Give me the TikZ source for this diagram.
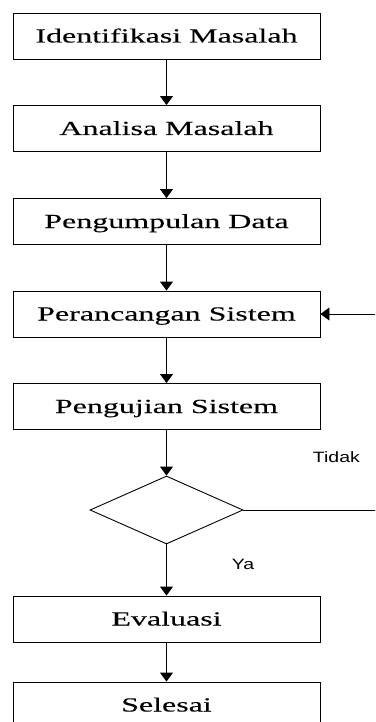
\documentclass[tikz,border=0pt]{standalone}
\usepackage{fontspec}
\setmainfont{Liberation Serif}[FakeStretch=1.6, FakeBold=0.15]
\newfontfamily\labelfont{Liberation Sans}[FakeStretch=1.3]
\usetikzlibrary{calc,positioning,shapes.geometric,arrows.meta}

\begin{document}
\begin{tikzpicture}[line width=0.9pt, >={Triangle[width=13pt,length=9pt]},
block/.style={rectangle, draw, minimum width=307pt, minimum height=46pt, inner sep=0pt,
      text height=18pt, text depth=5pt, font=\fontsize{20}{24}\selectfont},
decision/.style={diamond, draw, minimum width=153pt, minimum height=68pt, inner sep=0pt},
lbl/.style={font=\labelfont\fontsize{15}{18}\selectfont, inner sep=0pt}]
 \clip (-166.5pt,36pt) rectangle (208.5pt,-686pt);
 \node[block] (ident) at (0,0) {Identifikasi Masalah};
 \node[block, below of=ident, node distance=92.5pt] (analisa) {Analisa Masalah};
 \node[block, below of=analisa, node distance=93pt] (data) {Pengumpulan Data};
 \node[block, below of=data, node distance=92.5pt] (rancang) {Perancangan Sistem};
 \node[block, below of=rancang, node distance=92.5pt] (uji) {Pengujian Sistem};
 \node[decision, below of=uji, node distance=103.5pt] (cek) {};
 \node[block, below of=cek, node distance=109pt] (evaluasi) {Evaluasi};
 \node[block, below of=evaluasi, node distance=86pt] (selesai) {Selesai};
 \node[coordinate, right of=rancang, node distance=215pt] (balik) {};
 \node[lbl] (tidak) at ($ (cek.east) + (93pt, 53pt) $) {Tidak};

 \draw[->] (ident) -- (analisa);
 \draw[->] (analisa) -- (data);
 \draw[->] (data) -- (rancang);
 \draw[->] (rancang) -- (uji);
 \draw[->] (uji) -- (cek);
 \draw[->] (cek) -- node[lbl, pos=0.4, xshift=76.5pt] {Ya} (evaluasi);
 \draw[->] (evaluasi) -- (selesai);
 \draw[->] (cek.east) -| (balik) -- (rancang.east);
\end{tikzpicture}
\end{document}
